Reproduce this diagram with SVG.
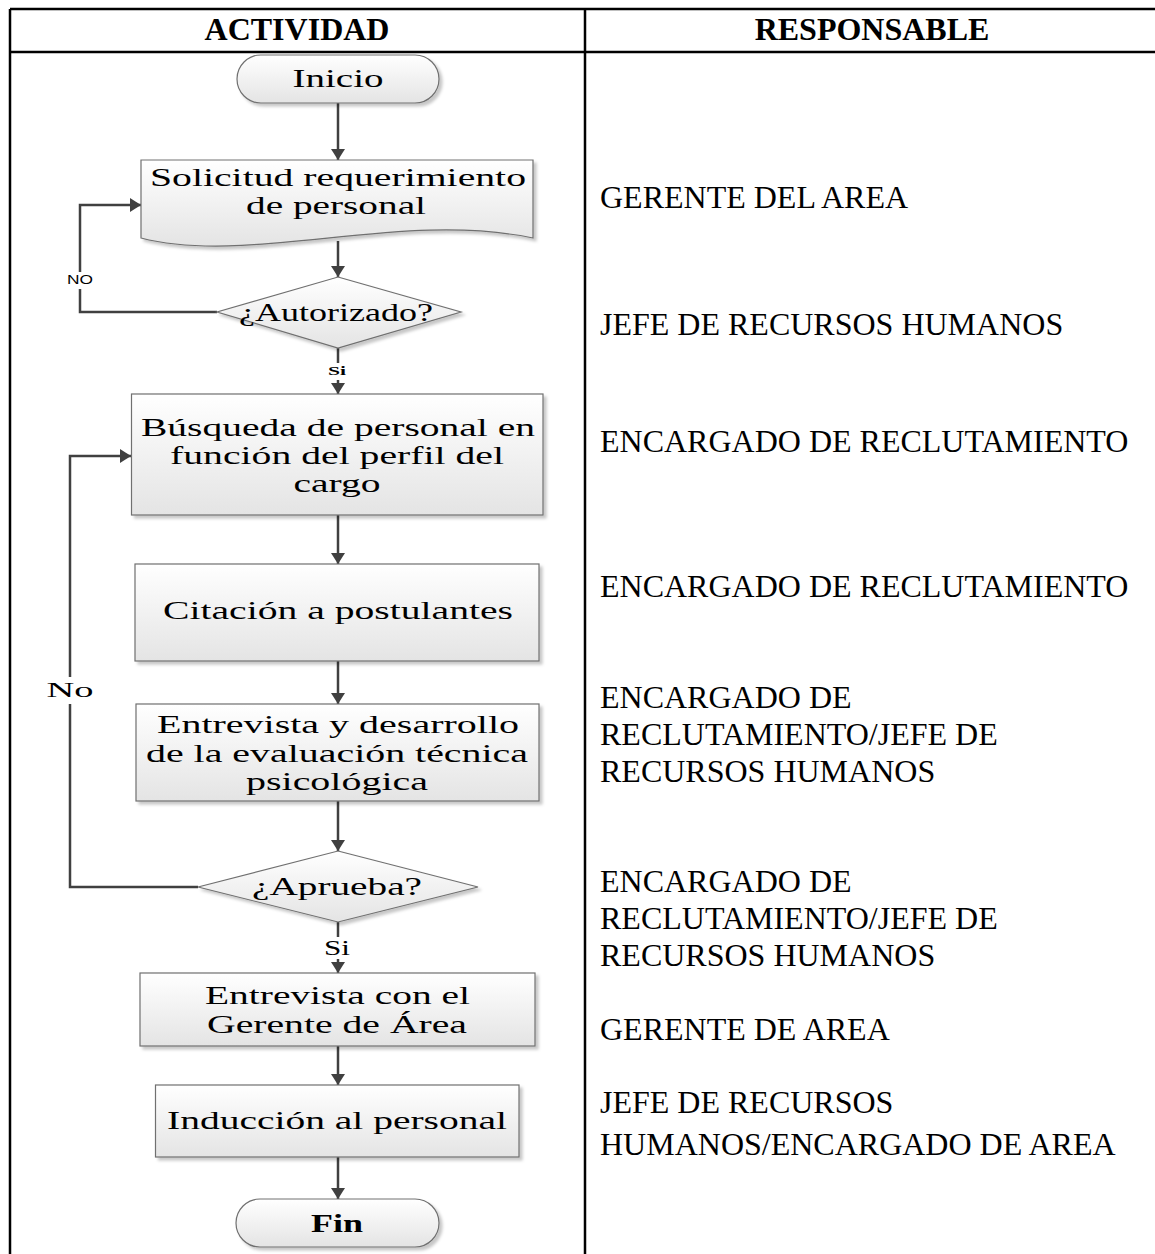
<svg xmlns="http://www.w3.org/2000/svg" width="1155" height="1254" viewBox="0 0 1155 1254">
  <defs>
    <linearGradient id="shapeFill" x1="0" y1="0" x2="0" y2="1">
      <stop offset="0" stop-color="#ffffff"/>
      <stop offset="1" stop-color="#e4e4e4"/>
    </linearGradient>
    <filter id="shadow" x="-10%" y="-10%" width="125%" height="135%">
      <feGaussianBlur in="SourceAlpha" stdDeviation="1.5"/>
      <feOffset dx="3" dy="3" result="b"/>
      <feFlood flood-color="#000" flood-opacity="0.22"/>
      <feComposite in2="b" operator="in"/>
      <feMerge><feMergeNode/><feMergeNode in="SourceGraphic"/></feMerge>
    </filter>
    <marker id="arrow" markerUnits="userSpaceOnUse" markerWidth="16" markerHeight="16" refX="11" refY="7" orient="auto">
      <path d="M0,0 L11,7 L0,14 z" fill="#404040"/>
    </marker>
  </defs>
  <style>
    .grid { stroke: #000; stroke-width: 2.5; fill: none; }
    .head { font-family: "Liberation Serif", "Times New Roman", serif; font-weight: bold; font-size: 32px; fill: #000; text-anchor: middle; }
    .resp { font-family: "Liberation Serif", "Times New Roman", serif; font-size: 32px; fill: #000; }
    .shape { fill: url(#shapeFill); stroke: #707070; stroke-width: 1.2; filter: url(#shadow); }
    .lbl { font-family: "Liberation Serif", "Times New Roman", serif; font-size: 24.5px; fill: #000; text-anchor: middle; }
    .edge { stroke: #404040; stroke-width: 2.5; fill: none; }
    .tag { font-family: "Liberation Serif", "Times New Roman", serif; fill: #000; text-anchor: middle; }
    .tagsans { font-family: "Liberation Sans", Arial, sans-serif; font-size: 13px; fill: #000; text-anchor: middle; }
  </style>

  <rect width="1155" height="1254" fill="#fff"/>

  <!-- table frame -->
  <g id="table">
    <line class="grid" x1="10" y1="9" x2="1155" y2="9"/>
    <line class="grid" x1="10" y1="52" x2="1155" y2="52"/>
    <line class="grid" x1="10" y1="9" x2="10" y2="1254"/>
    <line class="grid" x1="585" y1="9" x2="585" y2="1254"/>
    <text class="head" x="297" y="40">ACTIVIDAD</text>
    <text class="head" x="872" y="40">RESPONSABLE</text>
  </g>

  <!-- responsible column -->
  <g id="responsables">
    <text class="resp" x="600" y="208">GERENTE DEL AREA</text>
    <text class="resp" x="600" y="335">JEFE DE RECURSOS HUMANOS</text>
    <text class="resp" x="600" y="452">ENCARGADO DE RECLUTAMIENTO</text>
    <text class="resp" x="600" y="597">ENCARGADO DE RECLUTAMIENTO</text>
    <text class="resp" x="600" y="708">ENCARGADO DE</text>
    <text class="resp" x="600" y="745">RECLUTAMIENTO/JEFE DE</text>
    <text class="resp" x="600" y="782">RECURSOS HUMANOS</text>
    <text class="resp" x="600" y="892">ENCARGADO DE</text>
    <text class="resp" x="600" y="929">RECLUTAMIENTO/JEFE DE</text>
    <text class="resp" x="600" y="966">RECURSOS HUMANOS</text>
    <text class="resp" x="600" y="1040">GERENTE DE AREA</text>
    <text class="resp" x="600" y="1113">JEFE DE RECURSOS</text>
    <text class="resp" x="600" y="1155">HUMANOS/ENCARGADO DE AREA</text>
  </g>

  <!-- connectors -->
  <g id="connectors">
    <line class="edge" x1="338" y1="103" x2="338" y2="160" marker-end="url(#arrow)"/>
    <line class="edge" x1="338" y1="241" x2="338" y2="277" marker-end="url(#arrow)"/>
    <polyline class="edge" points="217,312 80,312 80,205 141,205" marker-end="url(#arrow)"/>
    <line class="edge" x1="338" y1="348" x2="338" y2="394" marker-end="url(#arrow)"/>
    <line class="edge" x1="338" y1="515" x2="338" y2="564" marker-end="url(#arrow)"/>
    <line class="edge" x1="338" y1="661" x2="338" y2="704" marker-end="url(#arrow)"/>
    <line class="edge" x1="338" y1="801" x2="338" y2="851" marker-end="url(#arrow)"/>
    <polyline class="edge" points="198,887 70,887 70,456 131,456" marker-end="url(#arrow)"/>
    <line class="edge" x1="338" y1="922" x2="338" y2="973" marker-end="url(#arrow)"/>
    <line class="edge" x1="338" y1="1046" x2="338" y2="1085" marker-end="url(#arrow)"/>
    <line class="edge" x1="338" y1="1157" x2="338" y2="1199" marker-end="url(#arrow)"/>
    <!-- labels on connectors -->
    <rect x="64" y="272" width="32" height="17" fill="#fff"/>
    <text class="tagsans" x="80" y="284" textLength="26" lengthAdjust="spacingAndGlyphs">NO</text>
    <rect x="326" y="363" width="24" height="17" fill="#fff"/>
    <text class="tag" x="337" y="375" font-size="13" font-weight="bold" textLength="18" lengthAdjust="spacingAndGlyphs">Si</text>
    <rect x="44" y="677" width="52" height="27" fill="#fff"/>
    <text class="tag" x="70" y="697" font-size="21" textLength="47" lengthAdjust="spacingAndGlyphs">No</text>
    <rect x="322" y="937" width="32" height="22" fill="#fff"/>
    <text class="tag" x="337" y="955" font-size="21" textLength="26" lengthAdjust="spacingAndGlyphs">Si</text>
  </g>

  <!-- nodes -->
  <g id="inicio">
    <rect class="shape" x="237" y="55" width="202" height="48" rx="24" ry="24"/>
    <text class="lbl" x="338" y="87" textLength="91" lengthAdjust="spacingAndGlyphs">Inicio</text>
  </g>

  <g id="solicitud">
    <path class="shape" d="M141,160 L533,160 L533,238 C400,210 250,266 141,238 Z"/>
    <text class="lbl" x="338" y="186" textLength="376" lengthAdjust="spacingAndGlyphs">Solicitud requerimiento</text>
    <text class="lbl" x="336" y="214" textLength="180" lengthAdjust="spacingAndGlyphs">de personal</text>
  </g>

  <g id="autorizado">
    <polygon class="shape" points="338,277 461,312 338,348 217,312"/>
    <text class="lbl" x="336" y="321" textLength="194" lengthAdjust="spacingAndGlyphs">¿Autorizado?</text>
  </g>

  <g id="busqueda">
    <rect class="shape" x="131.5" y="394" width="411.5" height="121"/>
    <text class="lbl" x="338" y="436" textLength="394" lengthAdjust="spacingAndGlyphs">Búsqueda de personal en</text>
    <text class="lbl" x="337" y="464" textLength="334" lengthAdjust="spacingAndGlyphs">función del perfil del</text>
    <text class="lbl" x="337" y="492" textLength="87" lengthAdjust="spacingAndGlyphs">cargo</text>
  </g>

  <g id="citacion">
    <rect class="shape" x="135" y="564" width="404" height="97"/>
    <text class="lbl" x="338" y="619" textLength="350" lengthAdjust="spacingAndGlyphs">Citación a postulantes</text>
  </g>

  <g id="entrevista">
    <rect class="shape" x="136" y="704" width="403" height="97"/>
    <text class="lbl" x="338" y="733" textLength="362" lengthAdjust="spacingAndGlyphs">Entrevista y desarrollo</text>
    <text class="lbl" x="337" y="762" textLength="382" lengthAdjust="spacingAndGlyphs">de la evaluación técnica</text>
    <text class="lbl" x="337" y="790" textLength="182" lengthAdjust="spacingAndGlyphs">psicológica</text>
  </g>

  <g id="aprueba">
    <polygon class="shape" points="338,851 478,887 338,922 198,887"/>
    <text class="lbl" x="337" y="895" textLength="170" lengthAdjust="spacingAndGlyphs">¿Aprueba?</text>
  </g>

  <g id="entrevista-gerente">
    <rect class="shape" x="140" y="973" width="395" height="73"/>
    <text class="lbl" x="337.5" y="1004" textLength="265" lengthAdjust="spacingAndGlyphs">Entrevista con el</text>
    <text class="lbl" x="337" y="1033" textLength="260" lengthAdjust="spacingAndGlyphs">Gerente de Área</text>
  </g>

  <g id="induccion">
    <rect class="shape" x="155.5" y="1085" width="363.5" height="72"/>
    <text class="lbl" x="337" y="1129" textLength="340" lengthAdjust="spacingAndGlyphs">Inducción al personal</text>
  </g>

  <g id="fin">
    <rect class="shape" x="236" y="1199" width="203" height="48" rx="24" ry="24"/>
    <text class="lbl" x="337" y="1232" font-weight="bold" textLength="52" lengthAdjust="spacingAndGlyphs">Fin</text>
  </g>
</svg>
